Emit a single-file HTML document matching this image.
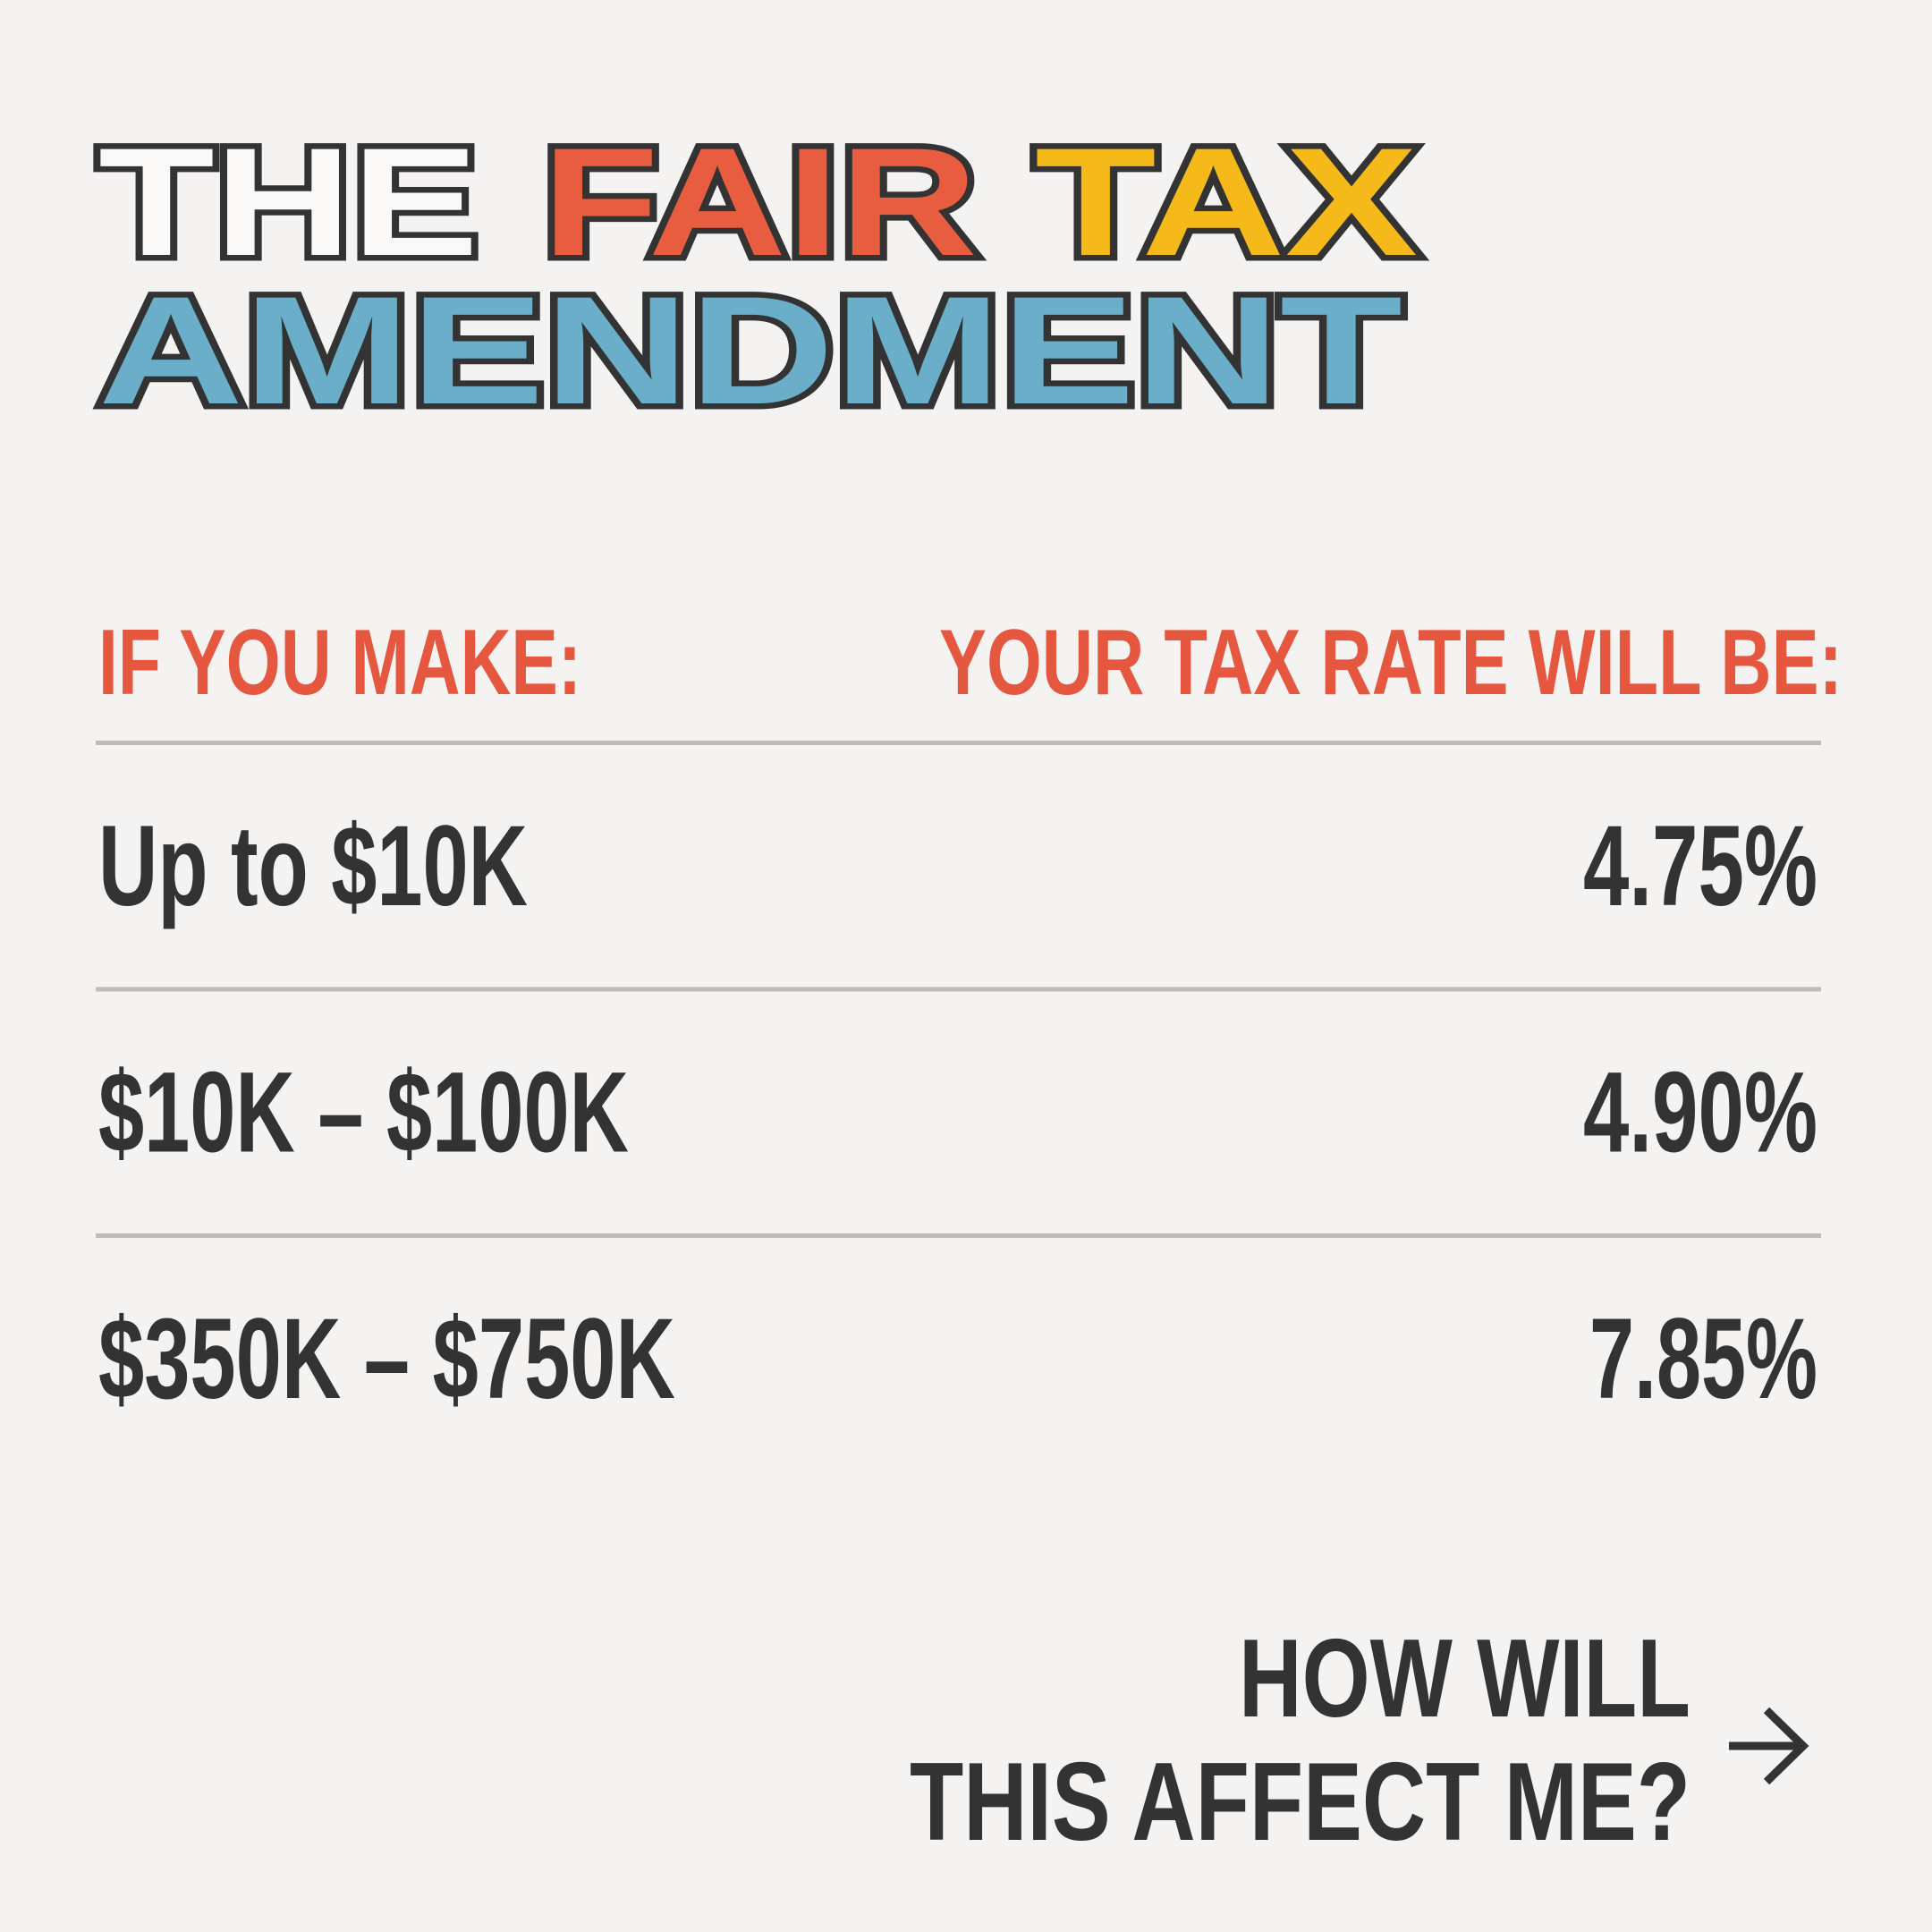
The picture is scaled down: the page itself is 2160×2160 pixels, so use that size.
<!DOCTYPE html>
<html><head><meta charset="utf-8">
<style>
html,body{margin:0;padding:0;background:#f5f3f1;}
svg{display:block;}
text{font-family:"Liberation Sans",sans-serif;font-weight:bold;}
</style></head>
<body>
<svg id="poster" width="2160" height="2160" viewBox="0 0 2160 2160" xmlns="http://www.w3.org/2000/svg">
<rect x="0" y="0" width="2160" height="2160" fill="#f5f3f1"/>
<g stroke="#333" stroke-width="13" stroke-linejoin="miter" paint-order="stroke">
<text x="110" y="285" font-size="172" fill="#fbf9f7" textLength="425" lengthAdjust="spacingAndGlyphs">THE</text>
<text x="606" y="285" font-size="172" fill="#e85c40" textLength="487" lengthAdjust="spacingAndGlyphs">FAIR</text>
<text x="1157" y="285" font-size="172" fill="#f6b91a" textLength="428" lengthAdjust="spacingAndGlyphs">TAX</text>
<text x="110" y="451" font-size="172" fill="#6aaec9" textLength="1458" lengthAdjust="spacingAndGlyphs">AMENDMENT</text>
</g>
<g fill="#e5573f">
<text x="110" y="776" font-size="104" textLength="540" lengthAdjust="spacingAndGlyphs">IF YOU MAKE:</text>
<text x="1050" y="776" font-size="104" textLength="1010" lengthAdjust="spacingAndGlyphs">YOUR TAX RATE WILL BE:</text>
</g>
<g id="rows"></g>
<g fill="#333">
<text x="1890" y="1919" font-size="124" text-anchor="end" textLength="505" lengthAdjust="spacingAndGlyphs">HOW WILL</text>
<text x="1890" y="2057" font-size="124" text-anchor="end" textLength="873" lengthAdjust="spacingAndGlyphs">THIS AFFECT ME?</text>
<path d="M1933 1952 H2014 M1975 1912 L2016 1952 L1975 1992" fill="none" stroke="#333" stroke-width="9"/>
</g>
</svg>
<script>
const incomes = ["Up to $10K", "$10K – $100K", "$350K – $750K"];
const rates = ["4.75%", "4.90%", "7.85%"];
const incomeWidths = [480, 593, 645];
const rateWidths = [262, 262, 255];
const NS = "http://www.w3.org/2000/svg";
const g = document.getElementById('rows');
function rowY(i){ return 831 + i*275.5; }
for (let i = 0; i < incomes.length; i++) {
  const line = document.createElementNS(NS, 'rect');
  
  
  line.setAttribute('x', 107); line.setAttribute('y', rowY(i) - 3);
  line.setAttribute('width', 1929); line.setAttribute('height', 5);
  line.setAttribute('fill', '#bdbcba');
  g.appendChild(line);
  const base = rowY(i) + 181;
  const t1 = document.createElementNS(NS, 'text');
  
  
  t1.setAttribute('x', 110); t1.setAttribute('y', base);
  t1.setAttribute('font-size', 128); t1.setAttribute('fill', '#333');
  t1.setAttribute('textLength', incomeWidths[i]); t1.setAttribute('lengthAdjust', 'spacingAndGlyphs');
  t1.textContent = incomes[i];
  g.appendChild(t1);
  const t2 = document.createElementNS(NS, 'text');
  
  
  t2.setAttribute('x', 2032); t2.setAttribute('y', base);
  t2.setAttribute('text-anchor', 'end');
  t2.setAttribute('font-size', 128); t2.setAttribute('fill', '#333');
  t2.setAttribute('textLength', rateWidths[i]); t2.setAttribute('lengthAdjust', 'spacingAndGlyphs');
  t2.textContent = rates[i];
  g.appendChild(t2);
}
</script>
</body></html>
